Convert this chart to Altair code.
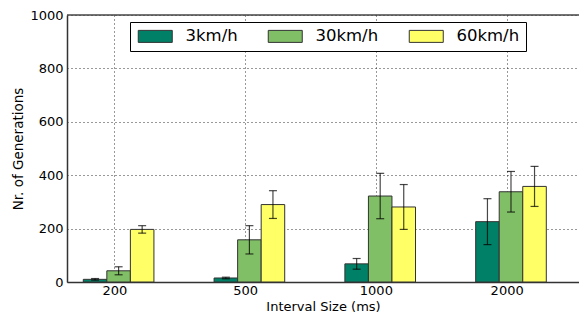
import altair as alt
import pandas as pd

intervals = ["200", "500", "1000", "2000"]
speeds = ["3km/h", "30km/h", "60km/h"]
mean_3 = [10, 15, 68, 226]
mean_30 = [42, 158, 322, 338]
mean_60 = [197, 290, 281, 358]
err_3 = [3, 3, 20, 86]
err_30 = [15, 53, 85, 76]
err_60 = [14, 52, 84, 75]
colors = ["#008066", "#80bf66", "#ffff66"]
y_ticks = [0, 200, 400, 600, 800, 1000]

BAR_W = 0.18
FIRST = -0.237
FONT = "DejaVu Sans"
PLOT_H = 267

rows = []
for si, (sp, means, errs) in enumerate(zip(speeds, [mean_3, mean_30, mean_60],
                                           [err_3, err_30, err_60])):
    for ii, lab in enumerate(intervals):
        left = ii + FIRST + si * BAR_W
        rows.append(dict(speed=sp, interval=lab, x0=left, x1=left + BAR_W,
                         xc=left + BAR_W / 2, mean=means[ii], base=0,
                         lo=means[ii] - errs[ii], hi=means[ii] + errs[ii]))
df = pd.DataFrame(rows)

xs = alt.Scale(domain=[-0.3616, 3.553], nice=False, zero=False)
ys = alt.Scale(domain=[y_ticks[0], y_ticks[-1]], nice=False)

label_list = "[" + ",".join("'%s'" % s for s in intervals) + "]"
xaxis = alt.Axis(values=list(range(len(intervals))), labelExpr=label_list + "[datum.value]",
                 title="Interval Size (ms)", titleY=28.3, titleBaseline="alphabetic",
                 titleFontSize=13, labelPadding=2)
yaxis = alt.Axis(values=y_ticks, format="d", title="Nr. of Generations", labelPadding=4,
                 titleX=-42, titleY=PLOT_H / 2, titleBaseline="bottom")

legend = alt.Legend(orient="none", legendX=63, legendY=7, direction="horizontal",
                    title=None, symbolType="M-1,-1H4.667V1H-1Z", symbolSize=144,
                    labelOffset=33, columnPadding=28, padding=6,
                    strokeColor="black", fillColor="white", labelFontSize=16.5,
                    labelFont=FONT, labelColor="black", symbolStrokeColor="#333",
                    symbolStrokeWidth=1, symbolOpacity=1, cornerRadius=0)

base = alt.Chart(df)

bars = base.mark_rect(stroke="#333", strokeWidth=1, opacity=1).encode(
    x=alt.X("x0:Q", scale=xs, axis=xaxis),
    x2="x1:Q",
    y=alt.Y("mean:Q", scale=ys, axis=yaxis),
    y2="base:Q",
    fill=alt.Fill("speed:N", scale=alt.Scale(domain=speeds, range=colors),
                  sort=speeds, legend=legend),
)

err = base.mark_rule(color="black", opacity=0.72, strokeWidth=1.2).encode(
    x=alt.X("xc:Q", scale=xs, axis=xaxis),
    y=alt.Y("lo:Q", scale=ys, axis=yaxis),
    y2="hi:Q",
)
cap_lo = base.mark_tick(orient="horizontal", size=8, thickness=1.2, color="black",
                        opacity=0.72).encode(
    x=alt.X("xc:Q", scale=xs, axis=xaxis),
    y=alt.Y("lo:Q", scale=ys, axis=yaxis),
)
cap_hi = base.mark_tick(orient="horizontal", size=8, thickness=1.2, color="black",
                        opacity=0.72).encode(
    x=alt.X("xc:Q", scale=xs, axis=xaxis),
    y=alt.Y("hi:Q", scale=ys, axis=yaxis),
)

top = alt.Chart(pd.DataFrame({"top": [y_ticks[-1]]})).mark_rule(
    color="#444", strokeWidth=1.5).encode(
    y=alt.Y("top:Q", scale=ys, axis=yaxis))

chart = alt.layer(bars, err, cap_lo, cap_hi, top).properties(
    width=512, height=PLOT_H,
    autosize=alt.AutoSizeParams(type="none"),
    padding={"left": 59, "top": 7, "right": 0, "bottom": 306 - 7 - PLOT_H},
).configure_view(stroke=None).configure_axis(
    domainColor="#333", domainWidth=1.5, tickSize=0, grid=True,
    gridDash=[1, 3], gridColor="black", gridOpacity=0.8, gridWidth=1,
    labelFont=FONT, labelFontSize=13, labelColor="black",
    titleFont=FONT, titleFontSize=13.5, titleFontWeight="normal", titleColor="black",
)

chart.save("out.html", embed_options={"renderer": "svg", "actions": False})
